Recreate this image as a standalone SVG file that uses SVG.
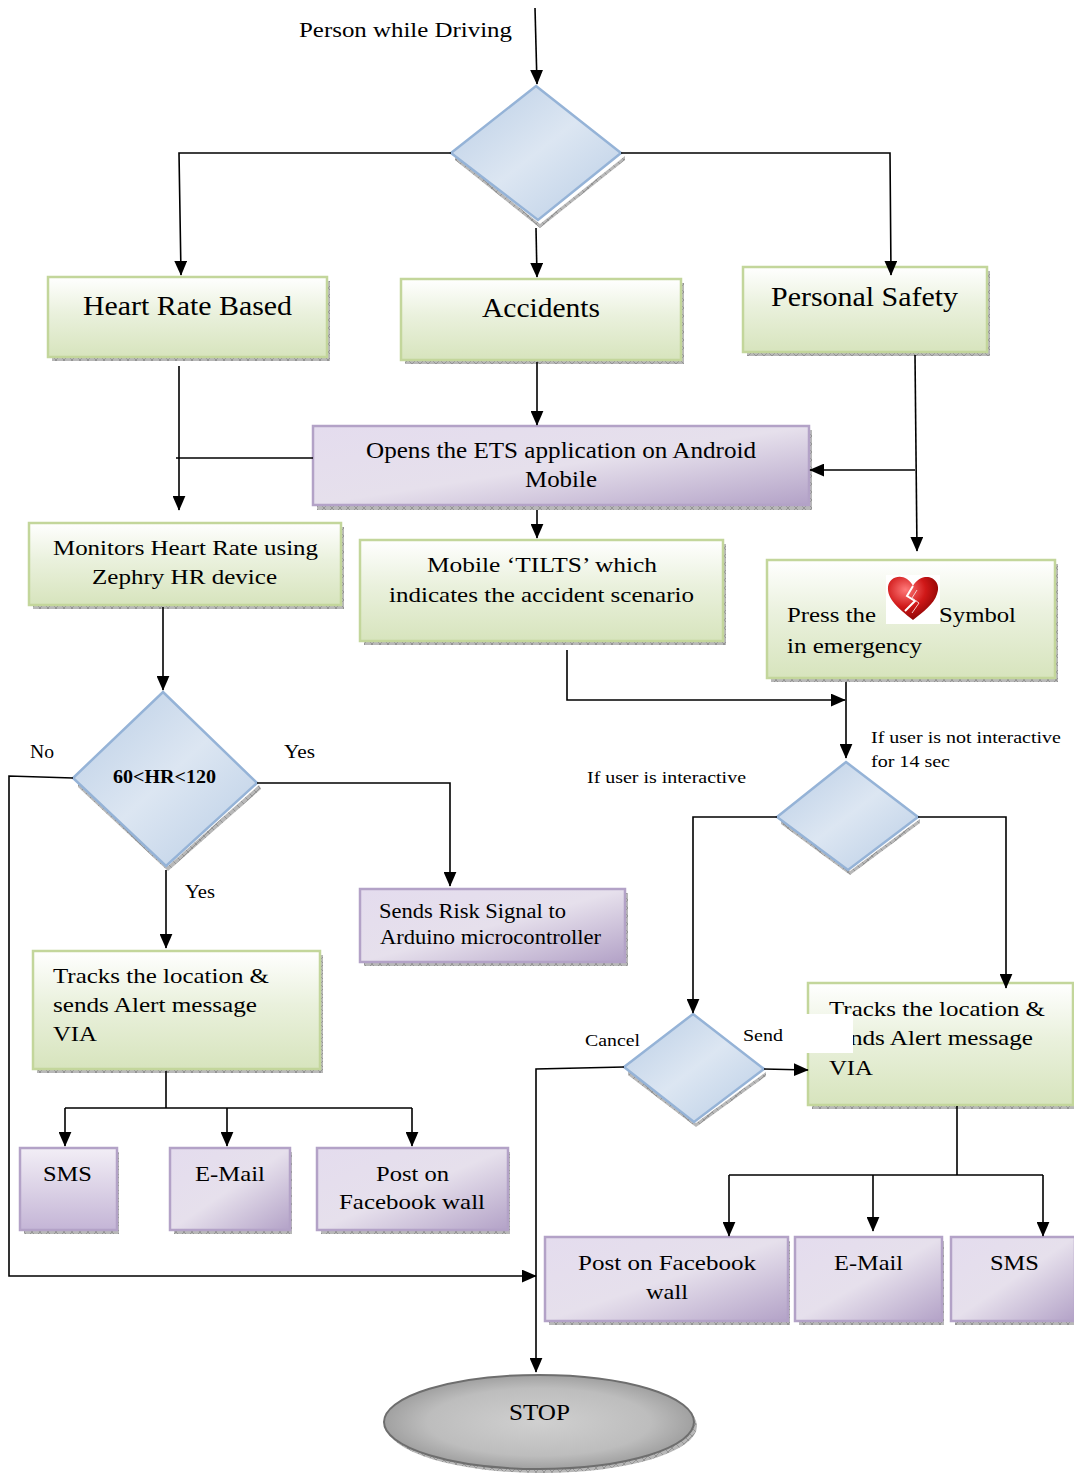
<svg xmlns="http://www.w3.org/2000/svg" width="1074" height="1477" viewBox="0 0 1074 1477">
<defs>
<linearGradient id="gGreen" x1="0" y1="0" x2="0" y2="1"><stop offset="0" stop-color="#ffffff"/><stop offset="0.45" stop-color="#eaf1dd"/><stop offset="1" stop-color="#d7e4bd"/></linearGradient>
<linearGradient id="gPurple" x1="0" y1="0" x2="1" y2="1"><stop offset="0" stop-color="#e4dcee"/><stop offset="0.5" stop-color="#e6e0ec"/><stop offset="1" stop-color="#b3a2c7"/></linearGradient>
<linearGradient id="gPurpleV" x1="0" y1="0" x2="0" y2="1"><stop offset="0" stop-color="#f2eef6"/><stop offset="1" stop-color="#c4b5d6"/></linearGradient>
<linearGradient id="gBlue" x1="0" y1="0" x2="1" y2="1"><stop offset="0" stop-color="#b9cde5"/><stop offset="0.5" stop-color="#dce6f2"/><stop offset="1" stop-color="#b9cde5"/></linearGradient>
<radialGradient id="gGray" cx="0.5" cy="0.5" r="0.6"><stop offset="0" stop-color="#d0d0d0"/><stop offset="0.6" stop-color="#bdbdbd"/><stop offset="1" stop-color="#8c8c8c"/></radialGradient>
<radialGradient id="gHeart" cx="0.35" cy="0.3" r="0.8"><stop offset="0" stop-color="#ff7a7a"/><stop offset="0.5" stop-color="#d01818"/><stop offset="1" stop-color="#7a0000"/></radialGradient>
<pattern id="pShadow" width="8" height="8" patternUnits="userSpaceOnUse"><rect width="8" height="8" fill="#b8b8b8"/><path d="M0 0L8 8M8 0L0 8" stroke="#8a8a8a" stroke-width="0.8"/></pattern>
<marker id="arrB" viewBox="0 0 10 10" refX="9.5" refY="5" markerWidth="15" markerHeight="13" markerUnits="userSpaceOnUse" orient="auto" preserveAspectRatio="none"><path d="M0 0L10 5L0 10Z" fill="#000"/></marker>
</defs>
<style>
.t{font-family:"Liberation Serif","Times New Roman",serif;fill:#000}
.g{fill:url(#gGreen);stroke:#c3d69b;stroke-width:2.5}
.p{fill:url(#gPurple);stroke:#b3a2c7;stroke-width:2.5}
.sh{fill:url(#pShadow)}
.d{fill:url(#gBlue);stroke:#95b3d7;stroke-width:2.5}
.c{fill:none;stroke:#000;stroke-width:1.6}
.a{marker-end:url(#arrB)}
</style>
<rect width="1074" height="1477" fill="#fff"/>

<text class="t" x="299" y="37" font-size="21" textLength="213" lengthAdjust="spacingAndGlyphs">Person while Driving</text>

<g id="decision-top">
<path class="sh" d="M455 156L540 224L625 156L625 160L540 228L455 160Z"/>
<path class="d" d="M536 86L621 153L538 220L451 153Z"/>
</g>

<g id="heart-rate-based">
<rect class="sh" x="52" y="281" width="278" height="80"/>
<rect class="g" x="48" y="277" width="279" height="80"/>
<text class="t" x="83" y="315" font-size="27" textLength="209" lengthAdjust="spacingAndGlyphs">Heart Rate Based</text>
</g>
<g id="accidents">
<rect class="sh" x="405" y="283" width="279" height="81"/>
<rect class="g" x="401" y="279" width="280" height="81"/>
<text class="t" x="482" y="317" font-size="27" textLength="118" lengthAdjust="spacingAndGlyphs">Accidents</text>
</g>
<g id="personal-safety">
<rect class="sh" x="747" y="271" width="243" height="85"/>
<rect class="g" x="743" y="267" width="244" height="85"/>
<text class="t" x="771" y="306" font-size="27" textLength="187" lengthAdjust="spacingAndGlyphs">Personal Safety</text>
</g>

<g id="opens-ets">
<rect class="sh" x="317" y="430" width="495" height="80"/>
<rect class="p" x="313" y="426" width="496" height="79"/>
<text class="t" x="366" y="458" font-size="23" textLength="390" lengthAdjust="spacingAndGlyphs">Opens the ETS application on Android</text>
<text class="t" x="525" y="487" font-size="23" textLength="72" lengthAdjust="spacingAndGlyphs">Mobile</text>
</g>

<g id="monitors-hr">
<rect class="sh" x="33" y="527" width="311" height="82"/>
<rect class="g" x="29" y="523" width="312" height="82"/>
<text class="t" x="53" y="555" font-size="22" textLength="265" lengthAdjust="spacingAndGlyphs">Monitors Heart Rate using</text>
<text class="t" x="92" y="584" font-size="22" textLength="185" lengthAdjust="spacingAndGlyphs">Zephry HR device</text>
</g>

<g id="mobile-tilts">
<rect class="sh" x="364" y="544" width="362" height="101"/>
<rect class="g" x="360" y="540" width="363" height="101"/>
<text class="t" x="427" y="572" font-size="22" textLength="230" lengthAdjust="spacingAndGlyphs">Mobile ‘TILTS’ which</text>
<text class="t" x="389" y="602" font-size="22" textLength="305" lengthAdjust="spacingAndGlyphs">indicates the accident scenario</text>
</g>

<g id="press-symbol">
<rect class="sh" x="771" y="564" width="287" height="118"/>
<rect class="g" x="767" y="560" width="288" height="118"/>
<rect x="886" y="575" width="54" height="49" fill="#fff"/>
<path d="M913 620C898 608 887 599 888 587C889 578 899 574 907 579C910 581 912 584 913 586C915 582 919 578 925 577C934 576 941 584 937 594C934 604 923 612 913 620Z" fill="url(#gHeart)"/>
<path d="M913 586L907 596L915 601L905 611" fill="none" stroke="#fff" stroke-width="2"/>
<path d="M917 590L912 598L919 603L912 613" fill="none" stroke="#f4cfcf" stroke-width="1"/>
<text class="t" x="787" y="622" font-size="22" textLength="89" lengthAdjust="spacingAndGlyphs">Press the</text>
<text class="t" x="939" y="622" font-size="22" textLength="77" lengthAdjust="spacingAndGlyphs">Symbol</text>
<text class="t" x="787" y="653" font-size="22" textLength="135" lengthAdjust="spacingAndGlyphs">in emergency</text>
</g>

<g id="decision-hr">
<path class="sh" d="M78 783L168 866L259 785L261 789L168 871L78 787Z"/>
<path class="d" d="M163 692L257 783L166 866L73 778Z"/>
<text class="t" x="113" y="783" font-size="18" font-weight="bold" textLength="103" lengthAdjust="spacingAndGlyphs">60&lt;HR&lt;120</text>
</g>
<text class="t" x="30" y="758" font-size="18" textLength="24" lengthAdjust="spacingAndGlyphs">No</text>
<text class="t" x="284" y="758" font-size="18" textLength="31" lengthAdjust="spacingAndGlyphs">Yes</text>
<text class="t" x="185" y="898" font-size="18" textLength="30" lengthAdjust="spacingAndGlyphs">Yes</text>

<g id="sends-risk">
<rect class="sh" x="364" y="893" width="264" height="73"/>
<rect class="p" x="360" y="889" width="265" height="73"/>
<text class="t" x="379" y="918" font-size="20" textLength="187" lengthAdjust="spacingAndGlyphs">Sends Risk Signal to</text>
<text class="t" x="380" y="944" font-size="20" textLength="221" lengthAdjust="spacingAndGlyphs">Arduino microcontroller</text>
</g>

<g id="tracks-left">
<rect class="sh" x="37" y="955" width="286" height="118"/>
<rect class="g" x="33" y="951" width="287" height="118"/>
<text class="t" x="53" y="983" font-size="22" textLength="216" lengthAdjust="spacingAndGlyphs">Tracks the location &amp;</text>
<text class="t" x="53" y="1012" font-size="22" textLength="204" lengthAdjust="spacingAndGlyphs">sends Alert message</text>
<text class="t" x="53" y="1041" font-size="22" textLength="44" lengthAdjust="spacingAndGlyphs">VIA</text>
</g>

<g id="sms-left">
<rect class="sh" x="24" y="1152" width="95" height="82"/>
<rect fill="url(#gPurpleV)" stroke="#b3a2c7" stroke-width="2.5" x="20" y="1148" width="97" height="82"/>
<text class="t" x="43" y="1181" font-size="22" textLength="49" lengthAdjust="spacingAndGlyphs">SMS</text>
</g>
<g id="email-left">
<rect class="sh" x="174" y="1152" width="118" height="82"/>
<rect class="p" x="170" y="1148" width="120" height="82"/>
<text class="t" x="195" y="1181" font-size="22" textLength="70" lengthAdjust="spacingAndGlyphs">E-Mail</text>
</g>
<g id="facebook-left">
<rect class="sh" x="321" y="1152" width="189" height="82"/>
<rect class="p" x="317" y="1148" width="191" height="82"/>
<text class="t" x="376" y="1181" font-size="22" textLength="73" lengthAdjust="spacingAndGlyphs">Post on</text>
<text class="t" x="339" y="1209" font-size="22" textLength="146" lengthAdjust="spacingAndGlyphs">Facebook wall</text>
</g>

<g id="decision-interactive">
<path class="sh" d="M781 820L850 871L920 819L920 823L850 875L781 824Z"/>
<path class="d" d="M846 762L918 817L848 870L777 817Z"/>
</g>
<text class="t" x="871" y="743" font-size="17" textLength="190" lengthAdjust="spacingAndGlyphs">If user is not interactive</text>
<text class="t" x="871" y="767" font-size="17" textLength="79" lengthAdjust="spacingAndGlyphs">for 14 sec</text>
<text class="t" x="587" y="783" font-size="17" textLength="159" lengthAdjust="spacingAndGlyphs">If user is interactive</text>

<g id="decision-send">
<path class="sh" d="M628 1071L696 1123L766 1072L766 1076L696 1127L628 1075Z"/>
<path class="d" d="M693 1014L764 1069L694 1122L624 1067Z"/>
</g>
<text class="t" x="585" y="1046" font-size="17" textLength="55" lengthAdjust="spacingAndGlyphs">Cancel</text>
<text class="t" x="743" y="1041" font-size="17" textLength="40" lengthAdjust="spacingAndGlyphs">Send</text>

<g id="tracks-right">
<rect class="sh" x="812" y="987" width="262" height="122"/>
<rect class="g" x="808" y="983" width="265" height="122"/>
<text class="t" x="829" y="1016" font-size="22" textLength="216" lengthAdjust="spacingAndGlyphs">Tracks the location &amp;</text>
<text class="t" x="829" y="1045" font-size="22" textLength="204" lengthAdjust="spacingAndGlyphs">sends Alert message</text>
<text class="t" x="829" y="1075" font-size="22" textLength="44" lengthAdjust="spacingAndGlyphs">VIA</text>
<rect x="806" y="1014" width="47" height="39" fill="#fff"/>
</g>

<g id="facebook-right">
<rect class="sh" x="549" y="1241" width="241" height="84"/>
<rect class="p" x="545" y="1237" width="243" height="84"/>
<text class="t" x="578" y="1270" font-size="22" textLength="178" lengthAdjust="spacingAndGlyphs">Post on Facebook</text>
<text class="t" x="646" y="1299" font-size="22" textLength="42" lengthAdjust="spacingAndGlyphs">wall</text>
</g>
<g id="email-right">
<rect class="sh" x="799" y="1241" width="145" height="84"/>
<rect class="p" x="795" y="1237" width="147" height="84"/>
<text class="t" x="834" y="1270" font-size="22" textLength="69" lengthAdjust="spacingAndGlyphs">E-Mail</text>
</g>
<g id="sms-right">
<rect class="sh" x="955" y="1241" width="119" height="84"/>
<rect class="p" x="951" y="1237" width="124" height="84"/>
<text class="t" x="990" y="1270" font-size="22" textLength="49" lengthAdjust="spacingAndGlyphs">SMS</text>
</g>

<g id="stop">
<ellipse cx="542" cy="1426" rx="155" ry="47" fill="url(#pShadow)"/>
<ellipse cx="539" cy="1422" rx="155" ry="47" fill="url(#gGray)" stroke="#6e6e6e" stroke-width="2"/>
<text class="t" x="509" y="1420" font-size="23" textLength="61" lengthAdjust="spacingAndGlyphs">STOP</text>
</g>

<g id="connectors">
<path class="c a" d="M535 8L537 84"/>
<path class="c a" d="M451 153L179 153L181 275"/>
<path class="c a" d="M621 153L890 153L891 275"/>
<path class="c a" d="M536 228L537 277"/>
<path class="c a" d="M179 366L179 510"/>
<path class="c" d="M176 458L313 458"/>
<path class="c a" d="M537 362L537 425"/>
<path class="c a" d="M915 355L917 551"/>
<path class="c a" d="M915 470L810 470"/>
<path class="c a" d="M537 510L537 538"/>
<path class="c a" d="M567 650L567 700L845 700"/>
<path class="c a" d="M846 682L846 758"/>
<path class="c a" d="M163 607L163 690"/>
<path class="c a" d="M73 778L9 776L9 1276L536 1276"/>
<path class="c a" d="M257 783L450 783L450 886"/>
<path class="c a" d="M166 870L166 948"/>
<path class="c" d="M166 1071L166 1108M65 1108L412 1108"/>
<path class="c a" d="M65 1108L65 1146"/>
<path class="c a" d="M227 1108L227 1146"/>
<path class="c a" d="M412 1108L412 1146"/>
<path class="c a" d="M777 817L693 817L693 1013"/>
<path class="c a" d="M918 817L1006 817L1006 988"/>
<path class="c a" d="M764 1069L808 1070"/>
<path class="c a" d="M624 1067L536 1069L536 1372"/>
<path class="c" d="M957 1106L957 1175M729 1175L1043 1175"/>
<path class="c a" d="M729 1175L729 1236"/>
<path class="c a" d="M873 1175L873 1231"/>
<path class="c a" d="M1043 1175L1043 1236"/>
</g>
</svg>
